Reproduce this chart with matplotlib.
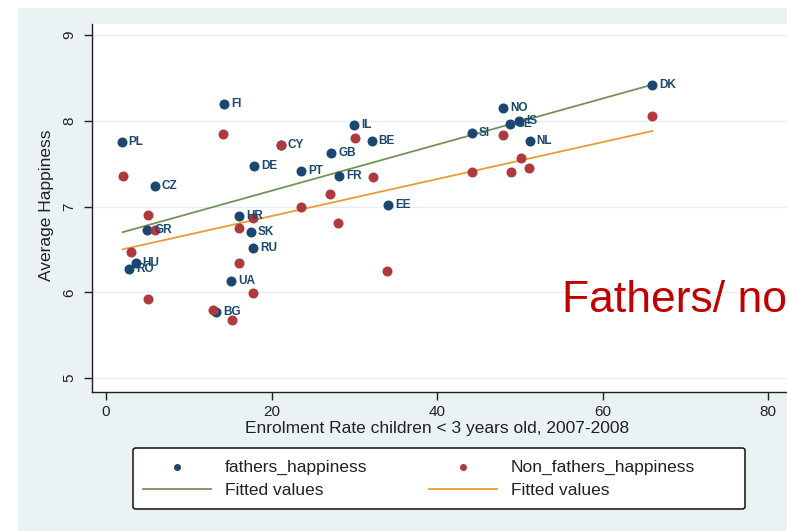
import matplotlib
matplotlib.use("Agg")
import matplotlib.pyplot as plt
from matplotlib.patches import Rectangle, FancyBboxPatch

plt.rcParams['font.family'] = ['Liberation Sans', 'DejaVu Sans']

# ---------------- data ----------------
countries = ["PL", "FI", "CZ", "DE", "CY", "PT", "GB", "FR", "IL", "BE", "EE",
             "SI", "NO", "SE", "IS", "NL", "DK", "GR", "RO", "HU", "HR", "SK",
             "RU", "UA", "BG"]
enrol_fathers = [1.9, 14.3, 5.9, 17.9, 21.1, 23.6, 27.2, 28.2, 30.0, 32.1, 34.1,
                 44.2, 48.0, 48.8, 49.9, 51.2, 66.0, 5.0, 2.8, 3.6, 16.1, 17.5,
                 17.8, 15.1, 13.3]
fathers_happiness = [7.75, 8.20, 7.24, 7.47, 7.72, 7.41, 7.62, 7.36, 7.95, 7.76, 7.02,
                     7.86, 8.15, 7.96, 8.00, 7.76, 8.42, 6.73, 6.27, 6.34, 6.89, 6.70,
                     6.52, 6.13, 5.77]

enrol_nonfathers = [2.1, 14.1, 21.1, 5.1, 5.9, 3.0, 5.1, 16.1, 17.8, 16.1, 17.8,
                    12.9, 15.2, 23.6, 27.1, 28.0, 30.1, 32.3, 34.0, 44.2, 48.0,
                    50.2, 48.9, 51.1, 66.0]
nonfathers_happiness = [7.36, 7.85, 7.72, 6.90, 6.73, 6.47, 5.92, 6.75, 6.87, 6.34, 5.99,
                        5.79, 5.68, 6.99, 7.15, 6.81, 7.80, 7.34, 6.25, 7.40, 7.83,
                        7.57, 7.40, 7.45, 8.05]

fit_x = [2.0, 66.0]
fathers_fit = [6.70, 8.42]
nonfathers_fit = [6.50, 7.88]

x_ticks = [0, 20, 40, 60, 80]
y_ticks = [5, 6, 7, 8, 9]

# ---------------- styling ----------------
W, H = 787, 531
navy = "#1a476f"
maroon = "#b0393e"
green = "#739456"
orange = "#eb9b35"
region = "#eaf2f4"
ink = "#222222"

fig = plt.figure(figsize=(W / 100, H / 100), dpi=100, facecolor="white")
bg = Rectangle((18 / W, 0), 1, 1 - 8 / H, transform=fig.transFigure,
               facecolor=region, edgecolor="none", zorder=-10)
fig.add_artist(bg)

ax_left, ax_right, ax_top, ax_bottom = 92, 787, 24, 392
ax = fig.add_axes([ax_left / W, 1 - ax_bottom / H, (ax_right - ax_left) / W,
                   (ax_bottom - ax_top) / H])
ax.set_zorder(1)
ax.set_facecolor("white")

px_per_x = (768 - 106) / 80.0
px_per_y = (378 - 35) / 4.0
ax.set_xlim(0 - (106 - ax_left) / px_per_x, 0 + (ax_right - 106) / px_per_x)
ax.set_ylim(5 - (ax_bottom - 378) / px_per_y, 9 + (35 - ax_top) / px_per_y)

for yv in y_ticks:
    ax.axhline(yv, color="#e6eef0", lw=0.9, zorder=0)

ax.plot(fit_x, fathers_fit, color=green, lw=1.3, zorder=2, label="Fitted values")
ax.plot(fit_x, nonfathers_fit, color=orange, lw=1.3, zorder=2, label="Fitted values")

ax.scatter(enrol_fathers, fathers_happiness, s=52, color=navy, zorder=3,
           linewidths=0, label="fathers_happiness")
ax.scatter(enrol_nonfathers, nonfathers_happiness, s=52, color=maroon, zorder=4,
           linewidths=0, label="Non_fathers_happiness")

for c, xv, yv in zip(countries, enrol_fathers, fathers_happiness):
    ax.annotate(c, (xv, yv), xytext=(5, 0), textcoords="offset points",
                va="center", ha="left", fontsize=8.5, fontweight="bold",
                color=navy, zorder=5)

for s in ["top", "right"]:
    ax.spines[s].set_visible(False)
for s in ["left", "bottom"]:
    ax.spines[s].set_color(ink)
    ax.spines[s].set_linewidth(1.0)

ax.set_xticks(x_ticks)
ax.set_yticks(y_ticks)
ax.set_xticklabels([str(v) for v in x_ticks])
ax.set_yticklabels([str(v) for v in y_ticks], rotation=90, va="center")
ax.tick_params(axis="both", direction="out", length=6, width=1.0, colors=ink,
               labelsize=11, labelcolor=ink)
ax.tick_params(axis="y", pad=5)
ax.tick_params(axis="x", pad=3)

ax.set_xlabel("Enrolment Rate children < 3 years old, 2007-2008", fontsize=12.5,
              color=ink)
ax.xaxis.set_label_coords((437 - ax_left) / (ax_right - ax_left),
                          -(428 - ax_bottom) / (ax_bottom - ax_top))
ax.set_ylabel("Average Happiness", fontsize=12.5, color=ink)
ax.yaxis.set_label_coords(-(ax_left - 47) / (ax_right - ax_left),
                          (ax_bottom - 205) / (ax_bottom - ax_top))
ax.xaxis.label.set_va("center")
ax.yaxis.label.set_va("center")

# legend frame (pixel box from the reference)
lx0, lx1, ly0, ly1 = 133, 745, 448, 509
frame = FancyBboxPatch((lx0 / W, 1 - ly1 / H), (lx1 - lx0) / W, (ly1 - ly0) / H,
                       boxstyle="round,pad=0,rounding_size=0.004",
                       transform=fig.transFigure, facecolor="white",
                       edgecolor=ink, linewidth=1.2, zorder=4)
fig.add_artist(frame)

handles, labels = ax.get_legend_handles_labels()
order = [2, 0, 3, 1]
leg = fig.legend([handles[i] for i in order], [labels[i] for i in order],
                 ncol=2, loc="center left",
                 bbox_to_anchor=((lx0 + 5) / W, 1 - (ly0 + ly1) / 2 / H),
                 fontsize=12.5, frameon=False,
                 handlelength=3.9, handletextpad=0.8, borderpad=0.3,
                 labelspacing=0.45, columnspacing=3.55, scatterpoints=1,
                 markerscale=0.7, borderaxespad=0)
leg.set_zorder(5)
for t in leg.get_texts():
    t.set_color(ink)

fig.text(562 / W, 1 - 312 / H, "Fathers/ non-fathers", fontsize=32,
         color="#c00000", ha="left", va="baseline", zorder=6,
         family=["Liberation Sans", "DejaVu Sans"])

fig.savefig("out.png", dpi=100, facecolor=fig.get_facecolor())
